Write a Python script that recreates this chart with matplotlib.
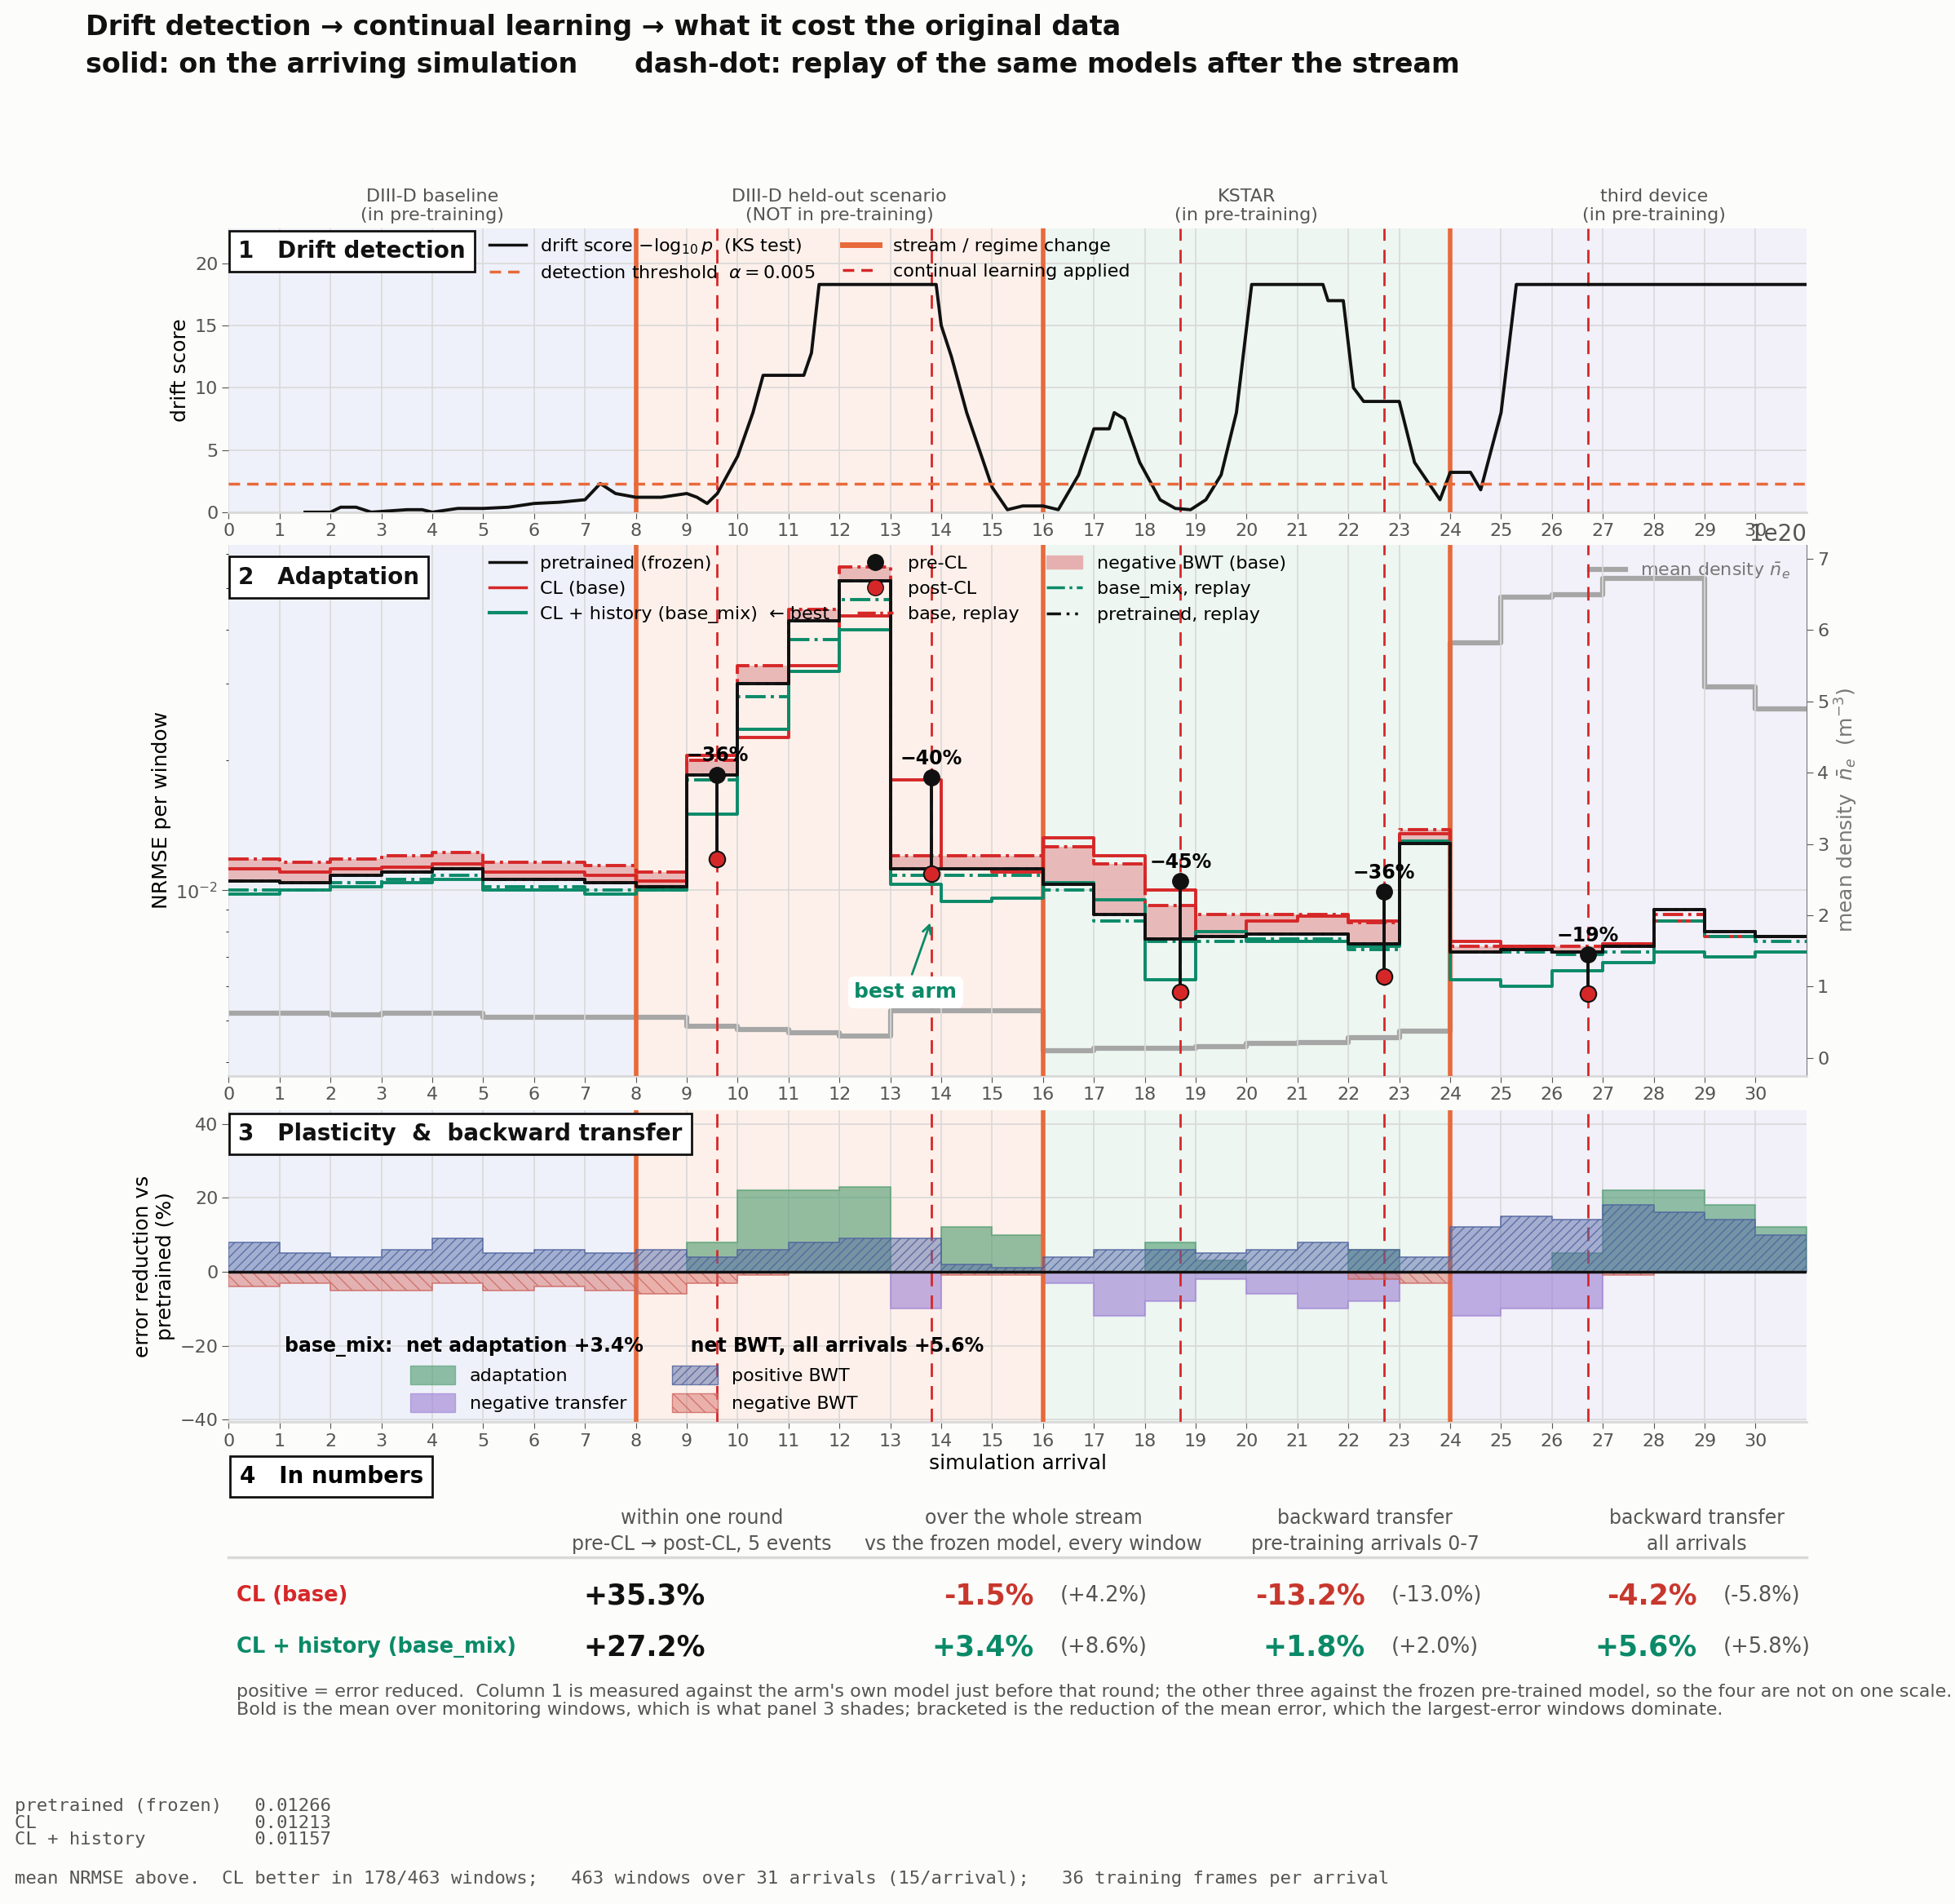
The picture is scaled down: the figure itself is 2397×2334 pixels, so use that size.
import numpy as np
import matplotlib
matplotlib.use("Agg")
import matplotlib.pyplot as plt
from matplotlib.patches import Patch
from matplotlib.lines import Line2D

# ---------------- data ----------------
arrivals = np.arange(31)
regions = ["DIII-D baseline\n(in pre-training)", "DIII-D held-out scenario\n(NOT in pre-training)",
           "KSTAR\n(in pre-training)", "third device\n(in pre-training)"]
stream_changes = [8, 16, 24]
cl_events = [9.6, 13.8, 18.7, 22.7, 26.7]

drift_x = [1.5, 2, 2.2, 2.5, 2.8, 3.5, 3.8, 4, 4.5, 5, 5.5, 6, 6.5, 7, 7.3, 7.6, 8, 8.5, 9, 9.2, 9.4, 9.6, 9.8, 10, 10.3,
           10.5, 11.3, 11.45, 11.6, 13.9, 14.0, 14.2, 14.5, 15, 15.3, 15.6, 16, 16.3, 16.7, 17, 17.3, 17.4, 17.6, 17.9,
           18.3, 18.6, 18.9, 19.2, 19.5, 19.8, 20.1, 21.5, 21.6, 21.9, 22.1, 22.3, 23, 23.3, 23.8, 24, 24.4, 24.6, 25,
           25.3, 31]
drift_y = [0, 0, 0.4, 0.4, 0, 0.2, 0.2, 0, 0.3, 0.3, 0.4, 0.7, 0.8, 1.0, 2.3, 1.5, 1.2, 1.2, 1.5, 1.2, 0.7, 1.5, 3.0,
           4.5, 8.0, 11.0, 11.0, 12.8, 18.3, 18.3, 15.0, 12.5, 8.0, 2.0, 0.2, 0.5, 0.5, 0.2, 3.0, 6.7, 6.7, 8.0, 7.5,
           4.0, 1.0, 0.3, 0.2, 1.0, 3.0, 8.0, 18.3, 18.3, 17.0, 17.0, 10.0, 8.9, 8.9, 4.0, 1.0, 3.2, 3.2, 1.8, 8.0,
           18.3, 18.3]
threshold = -np.log10(0.005)

pretrained = [0.0105, 0.0104, 0.0108, 0.0110, 0.0112, 0.0106, 0.0106, 0.0104, 0.0102, 0.0185, 0.0300, 0.0420, 0.0520,
              0.0112, 0.0112, 0.0112, 0.0103, 0.0088, 0.0077, 0.0078, 0.0079, 0.0079, 0.0075, 0.0128, 0.0072, 0.0073,
              0.0072, 0.0074, 0.0090, 0.0080, 0.0078]
cl_base = [0.0112, 0.0110, 0.0112, 0.0113, 0.0115, 0.0110, 0.0110, 0.0108, 0.0105, 0.0205, 0.0225, 0.0330, 0.0430,
           0.0180, 0.0112, 0.0110, 0.0132, 0.0120, 0.0100, 0.0080, 0.0085, 0.0087, 0.0085, 0.0135, 0.0076, 0.0074,
           0.0072, 0.0075, 0.0085, 0.0078, 0.0078]
cl_mix = [0.0098, 0.0100, 0.0102, 0.0104, 0.0106, 0.0100, 0.0100, 0.0098, 0.0100, 0.0150, 0.0235, 0.0320, 0.0400,
          0.0103, 0.0094, 0.0096, 0.0104, 0.0095, 0.0062, 0.0080, 0.0076, 0.0076, 0.0074, 0.0130, 0.0062, 0.0060,
          0.0065, 0.0068, 0.0072, 0.0070, 0.0072]
base_replay = [0.0118, 0.0116, 0.0118, 0.0120, 0.0122, 0.0116, 0.0116, 0.0114, 0.0110, 0.0200, 0.0330, 0.0447, 0.0560,
               0.0120, 0.0120, 0.0120, 0.0126, 0.0115, 0.0092, 0.0088, 0.0088, 0.0088, 0.0084, 0.0138, 0.0074, 0.0074,
               0.0074, 0.0075, 0.0088, 0.0080, 0.0078]
mix_replay = [0.0100, 0.0100, 0.0104, 0.0106, 0.0108, 0.0102, 0.0102, 0.0100, 0.0100, 0.0180, 0.0280, 0.0380, 0.0470,
              0.0108, 0.0108, 0.0108, 0.0100, 0.0085, 0.0076, 0.0076, 0.0077, 0.0077, 0.0073, 0.0128, 0.0072, 0.0072,
              0.0071, 0.0072, 0.0085, 0.0078, 0.0076]
pretrained_replay = pretrained
pre_cl = [0.0185, 0.0182, 0.0105, 0.0099, 0.0071]
post_cl = [0.0118, 0.0109, 0.0058, 0.0063, 0.00575]
density = [0.63e20, 0.63e20, 0.60e20, 0.63e20, 0.63e20, 0.57e20, 0.57e20, 0.57e20, 0.57e20, 0.45e20, 0.40e20, 0.35e20,
           0.31e20, 0.66e20, 0.66e20, 0.66e20, 0.10e20, 0.14e20, 0.14e20, 0.16e20, 0.20e20, 0.22e20, 0.28e20, 0.38e20,
           5.82e20, 6.46e20, 6.50e20, 6.72e20, 6.72e20, 5.20e20, 4.90e20]

adaptation = [0, 0, 0, 0, 0, 0, 0, 0, 0, 8, 22, 22, 23, 0, 12, 10, 0, 0, 8, 3, 0, 0, 6, 0, 0, 0, 5, 22, 22, 18, 12]
neg_transfer = [0, 0, 0, 0, 0, 0, 0, 0, 0, 0, 0, 0, 0, -10, 0, 0, -3, -12, -8, -2, -6, -10, -8, 0, -12, -10, -10, 0, 0,
                0, 0]
pos_bwt = [8, 5, 4, 6, 9, 5, 6, 5, 6, 4, 6, 8, 9, 9, 2, 1, 4, 6, 6, 5, 6, 8, 6, 4, 12, 15, 14, 18, 16, 14, 10]
neg_bwt = [-4, -3, -5, -5, -3, -5, -4, -5, -6, -3, -1, 0, 0, 0, -1, -1, 0, 0, 0, 0, 0, 0, -2, -3, 0, 0, 0, -1, 0, 0, 0]

col_heads = ["within one round\npre-CL → post-CL, 5 events", "over the whole stream\nvs the frozen model, every window",
             "backward transfer\npre-training arrivals 0-7", "backward transfer\nall arrivals"]
row_names = ["CL (base)", "CL + history (base_mix)"]
col1_vals = ["+35.3%", "+27.2%"]
bold_vals = [["-1.5%", "-13.2%", "-4.2%"], ["+3.4%", "+1.8%", "+5.6%"]]
brk_vals = [["(+4.2%)", "(-13.0%)", "(-5.8%)"], ["(+8.6%)", "(+2.0%)", "(+5.8%)"]]
means = [("pretrained (frozen)", 0.01266), ("CL", 0.01213), ("CL + history", 0.01157)]

# ---------------- style ----------------
BG = "#fcfcfa"
RED = "#d62728"
GREEN = "#0b8a68"
ORANGE = "#e8693a"
GRID = "#d9d9d9"
TXT = "#555555"
bands = ["#eef1f9", "#fdf0ea", "#edf6f1", "#f2f0f9"]
plt.rcParams["font.family"] = ["DejaVu Sans"]
TICK = 16
LEG = 16

fig = plt.figure(figsize=(23.97, 23.34), dpi=100, facecolor=BG)
L, R = 0.117, 0.924
ax1 = fig.add_axes([L, 0.731, R - L, 0.149])
ax2 = fig.add_axes([L, 0.435, R - L, 0.279])
ax3 = fig.add_axes([L, 0.253, R - L, 0.164])
edges = np.arange(32)


def st(v):
    return np.append(v, v[-1])


def decorate(ax, bg=True):
    ax.set_xlim(0, 31)
    if bg:
        for i, c in enumerate(bands):
            ax.axvspan(i * 8, min(i * 8 + 8, 31), color=c, zorder=0, lw=0)
    ax.set_xticks(range(31))
    ax.grid(True, color=GRID, lw=1.2, zorder=0.5)
    ax.set_axisbelow(True)
    for s in ["top", "right", "left"]:
        ax.spines[s].set_visible(False)
    ax.spines["bottom"].set_color(GRID)
    ax.spines["bottom"].set_linewidth(2)
    ax.tick_params(labelsize=TICK, colors=TXT, length=6)
    ax.set_facecolor(BG)
    for x in stream_changes:
        ax.axvline(x, color=ORANGE, lw=4, zorder=3)
    for x in cl_events:
        ax.axvline(x, color=RED, lw=2, ls=(0, (6, 4)), zorder=3)


def panel_label(ax, text, y=0.96):
    ax.text(0.006, y, text, transform=ax.transAxes, fontsize=20, fontweight="bold", va="top", ha="left",
            color="#111111", zorder=10,
            bbox=dict(boxstyle="square,pad=0.4", fc="white", ec="#111111", lw=2))


# ---- panel 1 ----
decorate(ax1)
ax1.plot(drift_x, drift_y, color="#111111", lw=2.8, zorder=4)
ax1.axhline(threshold, color=ORANGE, lw=2.5, ls=(0, (4, 2.5)), zorder=4)
ax1.set_ylim(0, 22.8)
ax1.set_yticks([0, 5, 10, 15, 20])
ax1.set_ylabel("drift score", fontsize=18)
for i, t in enumerate(regions):
    ax1.text(i * 8 + 4, 23.2, t, ha="center", va="bottom", fontsize=16, color=TXT)
panel_label(ax1, "1   Drift detection")
h1 = [Line2D([], [], color="#111111", lw=2.5), Line2D([], [], color=ORANGE, lw=2.5, ls=(0, (4, 2.5))),
      Line2D([], [], color=ORANGE, lw=5), Line2D([], [], color=RED, lw=2.5, ls=(0, (4, 2.5)))]
lab1 = [r"drift score $-\log_{10}p$  (KS test)", r"detection threshold  $\alpha=0.005$",
        "stream / regime change", "continual learning applied"]
ax1.legend(h1, lab1, ncol=2, loc="upper left", bbox_to_anchor=(0.155, 1.03), frameon=False, fontsize=LEG,
           columnspacing=1.5)

# ---- panel 2 ----
decorate(ax2, bg=False)
ax2.set_yscale("log")
ax2.set_ylim(3.72e-3, 0.063)
ax2.set_ylabel("NRMSE per window", fontsize=18)
pre_s, br_s = st(pretrained), st(base_replay)
ax2.fill_between(edges, pre_s, br_s, where=br_s > pre_s, step="post", color="#e6b0b0", alpha=0.85, zorder=2, lw=0)
ax2.step(edges, st(cl_base), where="post", color=RED, lw=2.8, zorder=4)
ax2.step(edges, st(cl_mix), where="post", color=GREEN, lw=2.8, zorder=4)
ax2.step(edges, br_s, where="post", color=RED, lw=2.8, ls="-.", zorder=4)
ax2.step(edges, st(mix_replay), where="post", color=GREEN, lw=2.8, ls="-.", zorder=4)
ax2.step(edges, st(pretrained_replay), where="post", color="#111111", lw=2.8, ls=(0, (5, 2, 1, 2, 1, 2)), zorder=5)
ax2.step(edges, pre_s, where="post", color="#111111", lw=2.8, zorder=5)
for x, a, b in zip(cl_events, pre_cl, post_cl):
    ax2.plot([x, x], [a, b], color="#111111", lw=2.8, zorder=6)
    ax2.plot(x, a, "o", ms=14, color="#111111", zorder=7)
    ax2.plot(x, b, "o", ms=14, color=RED, mec="#111111", mew=1.5, zorder=7)
    ax2.text(x, a * 1.05, f"\u2212{abs(round((b / a - 1) * 100)):.0f}%", ha="center", va="bottom",
             fontsize=17, fontweight="bold", zorder=8)
ax2.annotate("best arm", xy=(13.8, 0.0085), xytext=(13.3, 0.0058), ha="center", va="center", color=GREEN,
             fontsize=18, fontweight="bold", zorder=9,
             bbox=dict(boxstyle="round,pad=0.3", fc="white", ec="none"),
             arrowprops=dict(arrowstyle="->", color=GREEN, lw=2))
panel_label(ax2, "2   Adaptation")
axd = ax2.twinx()
for i, c in enumerate(bands):
    axd.axvspan(i * 8, min(i * 8 + 8, 31), color=c, zorder=0, lw=0)
axd.step(edges, st(density), where="post", color="#a6a6a6", lw=4.5, zorder=1)
axd.set_xlim(0, 31)
axd.set_ylim(-0.25e20, 7.2e20)
axd.set_ylabel(r"mean density  $\bar{n}_e$  (m$^{-3}$)", fontsize=18, color="#777777")
axd.tick_params(labelsize=TICK, colors=TXT, length=6)
axd.yaxis.get_offset_text().set_fontsize(20)
axd.yaxis.get_offset_text().set_color(TXT)
for s in ["top", "left", "bottom"]:
    axd.spines[s].set_visible(False)
axd.spines["right"].set_color("#777777")
axd.legend([Line2D([], [], color="#a6a6a6", lw=4.5)], [r"mean density $\bar{n}_e$"], loc="upper right",
           frameon=False, fontsize=LEG, labelcolor="#777777")
ax2.set_zorder(axd.get_zorder() + 1)
ax2.patch.set_visible(False)
axd.set_facecolor(BG)
h2 = [Line2D([], [], color="#111111", lw=2.5), Line2D([], [], color=RED, lw=2.5), Line2D([], [], color=GREEN, lw=3),
      Line2D([], [], ls="", marker="o", ms=14, color="#111111"),
      Line2D([], [], ls="", marker="o", ms=14, color=RED, mec="#111111"),
      Line2D([], [], color=RED, lw=2.5, ls="-."),
      Patch(color="#e6b0b0"), Line2D([], [], color=GREEN, lw=2.5, ls="-."),
      Line2D([], [], color="#111111", lw=2.5, ls=(0, (5, 2, 1, 2, 1, 2)))]
lab2 = ["pretrained (frozen)", "CL (base)", "CL + history (base_mix)  \u2190 best", "pre-CL", "post-CL",
        "base, replay", "negative BWT (base)", "base_mix, replay", "pretrained, replay"]
ax2.legend(h2, lab2, ncol=3, loc="upper left", bbox_to_anchor=(0.155, 1.01), frameon=False, fontsize=LEG,
           columnspacing=1.5)

# ---- panel 3 ----
decorate(ax3)
ax3.set_ylim(-40.7, 43.7)
ax3.set_yticks([-40, -20, 0, 20, 40])
ax3.set_ylabel("error reduction vs\npretrained (%)", fontsize=18)
ax3.fill_between(edges, 0, st(adaptation), step="post", color="#4c9a6e", alpha=0.6, lw=1.5, zorder=2)
ax3.fill_between(edges, 0, st(neg_transfer), step="post", color="#9b7fd4", alpha=0.6, lw=1.5, zorder=2)
ax3.fill_between(edges, 0, st(pos_bwt), step="post", fc=(0.35, 0.43, 0.66, 0.5), ec=(0.3, 0.38, 0.62, 0.8),
                 hatch="///", lw=1.2, zorder=3)
ax3.fill_between(edges, 0, st(neg_bwt), step="post", fc=(0.85, 0.45, 0.42, 0.5), ec=(0.8, 0.4, 0.38, 0.8),
                 hatch="\\\\", lw=1.2, zorder=3)
ax3.axhline(0, color="#111111", lw=2.5, zorder=5)
ax3.set_xlabel("simulation arrival", fontsize=18)
panel_label(ax3, "3   Plasticity  &  backward transfer")
h3 = [Patch(fc="#4c9a6e", alpha=0.6, ec="#4c9a6e"), Patch(fc="#9b7fd4", alpha=0.6, ec="#9b7fd4"),
      Patch(fc=(0.35, 0.43, 0.66, 0.5), ec=(0.3, 0.38, 0.62, 0.8), hatch="///"),
      Patch(fc=(0.85, 0.45, 0.42, 0.5), ec=(0.8, 0.4, 0.38, 0.8), hatch="\\\\")]
lg3 = ax3.legend(h3, ["adaptation", "negative transfer", "positive BWT", "negative BWT"], ncol=2,
                 loc="lower left", bbox_to_anchor=(0.025, -0.02), frameon=False, fontsize=LEG, columnspacing=2.5,
                 handlelength=2.5, handleheight=1.2,
                 title="base_mix:  net adaptation +3.4%       net BWT, all arrivals +5.6%",
                 title_fontproperties={"weight": "bold", "size": 17})
lg3.set_zorder(12)

# ---- titles ----
def fx(x):
    return x / 1568


def fy(y):
    return 1 - y / 1527


fig.text(fx(69), fy(22), "Drift detection \u2192 continual learning \u2192 what it cost the original data",
         fontsize=24, fontweight="bold", va="center", ha="left", color="#111111")
fig.text(fx(69), fy(52), "solid: on the arriving simulation      dash-dot: replay of the same models after the stream",
         fontsize=24, fontweight="bold", va="center", ha="left", color="#111111")

# ---- panel 4 ----
fig.text(fx(192), fy(1184), "4   In numbers", fontsize=20, fontweight="bold", va="center", ha="left",
         bbox=dict(boxstyle="square,pad=0.4", fc="white", ec="#111111", lw=2))
centers = [563, 829, 1095, 1361]
for c, h in zip(centers, col_heads):
    fig.text(fx(c), fy(1228), h, ha="center", va="center", fontsize=17, color=TXT, linespacing=1.4)
fig.add_artist(Line2D([fx(183), fx(1449)], [fy(1249), fy(1249)], color=GRID, lw=2.5))
row_y = [1280, 1321]
row_col = [RED, GREEN]
val_col = ["#c8372d", GREEN]
for r in range(2):
    fig.text(fx(190), fy(row_y[r]), row_names[r], fontsize=18.5, fontweight="bold", color=row_col[r], va="center")
    fig.text(fx(517), fy(row_y[r]), col1_vals[r], fontsize=25, fontweight="bold", color="#111111", va="center",
             ha="center")
    for j, (bx, px) in enumerate(zip([829, 1095, 1361], [850, 1116, 1382])):
        fig.text(fx(bx), fy(row_y[r]), bold_vals[r][j], fontsize=25, fontweight="bold", color=val_col[r],
                 va="center", ha="right")
        fig.text(fx(px), fy(row_y[r]), brk_vals[r][j], fontsize=18.5, color=TXT, va="center", ha="left")
fig.text(fx(190), fy(1364),
         "positive = error reduced.  Column 1 is measured against the arm's own model just before that round; "
         "the other three against the frozen pre-trained model, so the four are not on one scale.\n"
         "Bold is the mean over monitoring windows, which is what panel 3 shades; bracketed is the reduction "
         "of the mean error, which the largest-error windows dominate.",
         fontsize=16, color=TXT, va="center", ha="left", linespacing=1.1)
mono = "\n".join(f"{n:<22s}{v:.5f}" for n, v in means)
fig.text(fx(12), fy(1462), mono, family="DejaVu Sans Mono", fontsize=16, color=TXT, va="center", ha="left",
         linespacing=1.05)
fig.text(fx(12), fy(1507), "mean NRMSE above.  CL better in 178/463 windows;   463 windows over 31 arrivals "
         "(15/arrival);   36 training frames per arrival", family="DejaVu Sans Mono", fontsize=16, color=TXT,
         va="center", ha="left")

fig.savefig("out.png", dpi=100, facecolor=BG)
